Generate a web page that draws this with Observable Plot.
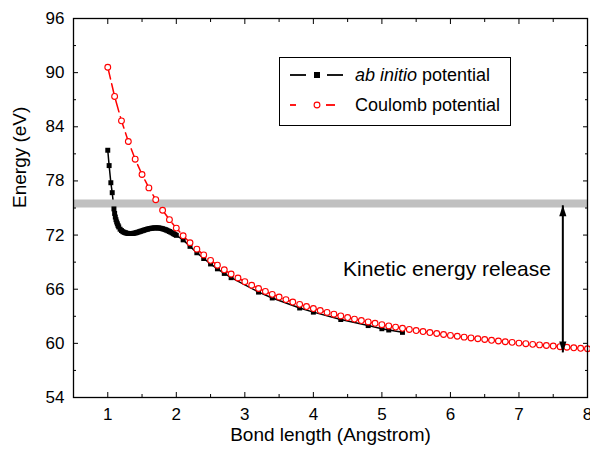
<!DOCTYPE html>
<html><head><meta charset="utf-8">
<script src="https://cdn.jsdelivr.net/npm/d3@7"></script>
<script src="https://cdn.jsdelivr.net/npm/@observablehq/plot@0.6"></script>
<style>
body{margin:0;background:#fff;}
#wrap{position:relative;width:590px;height:449px;font-family:"Liberation Sans",Arial,sans-serif;}
#legend{position:absolute;left:279px;top:57px;}
</style></head><body><div id="wrap"></div>
<script>
// Coulomb potential (red, open circles)
const coulombR = [1.0,1.1,1.2,1.3,1.4,1.5,1.6,1.7,1.8,1.9,2.0,2.1,2.2,2.3,2.4,2.5,2.6,2.7,2.8,2.9,3.0,3.1,3.2,3.3,3.4,3.5,3.6,3.7,3.8,3.9,4.0,4.1,4.2,4.3,4.4,4.5,4.6,4.7,4.8,4.9,5.0,5.1,5.2,5.3,5.4,5.5,5.6,5.7,5.8,5.9,6.0,6.1,6.2,6.3,6.4,6.5,6.6,6.7,6.8,6.9,7.0,7.1,7.2,7.3,7.4,7.5,7.6,7.7,7.8,7.9,8.0];
const coulombE = [90.60,87.36,84.66,82.37,80.41,78.71,77.23,75.92,74.75,73.71,72.77,71.92,71.15,70.44,69.80,69.20,68.66,68.15,67.68,67.24,66.83,66.44,66.08,65.75,65.43,65.13,64.85,64.58,64.32,64.08,63.86,63.64,63.43,63.23,63.04,62.86,62.69,62.53,62.37,62.22,62.07,61.93,61.80,61.67,61.54,61.42,61.31,61.20,61.09,60.98,60.88,60.79,60.69,60.60,60.51,60.43,60.34,60.26,60.18,60.11,60.03,59.96,59.89,59.83,59.76,59.70,59.63,59.57,59.51,59.45,59.40];
// ab initio potential (black, filled squares)
const abR = [1.00,1.02,1.045,1.065,1.09,1.10,1.11,1.12,1.13,1.14,1.15,1.16,1.18,1.20,1.22,1.24,1.26,1.28,1.30,1.32,1.34,1.36,1.38,1.40,1.42,1.44,1.46,1.48,1.50,1.52,1.54,1.56,1.58,1.60,1.62,1.64,1.66,1.68,1.70,1.72,1.74,1.76,1.78,1.80,1.82,1.84,1.86,1.88,1.90,1.92,1.94,1.96,1.98,2.00,2.1,2.2,2.3,2.4,2.5,2.6,2.7,2.8,3.2,3.4,3.8,4.0,4.4,4.8,5.0,5.1,5.3];
const abE = [81.4,79.7,77.8,76.7,74.9,74.4,74.0,73.7,73.45,73.25,73.05,72.9,72.65,72.5,72.38,72.3,72.25,72.2,72.18,72.17,72.17,72.18,72.2,72.23,72.27,72.32,72.37,72.42,72.47,72.52,72.57,72.62,72.66,72.7,72.73,72.76,72.78,72.79,72.8,72.8,72.79,72.77,72.74,72.70,72.65,72.60,72.54,72.47,72.40,72.32,72.24,72.15,72.06,71.97,71.47,70.75,70.04,69.40,68.80,68.26,67.75,67.28,65.68,65.03,63.92,63.46,62.64,61.97,61.62,61.48,61.22];
// ticks
const xMajor = [1,2,3,4,5,6,7,8];
const xMinor = [1.5,2.5,3.5,4.5,5.5,6.5,7.5];
const yMajor = [54,60,66,72,78,84,90,96];
const yMinor = [57,63,69,75,81,87,93];
// annotations
const greyLevel = [75.5];
const arrowX = [7.64];
const arrowTop = [75.3];
const arrowBottom = [59.0];
const noteText = ["Kinetic energy release"];
const noteX = [5.95];
const noteY = [68.2];
const xLabel = "Bond length (Angstrom)";
const yLabel = "Energy (eV)";
const seriesNames = ["ab initio", " potential", "Coulomb potential"];

const coulomb = coulombR.map((r, i) => ({r, e: coulombE[i]}));
const abinitio = abR.map((r, i) => ({r, e: abE[i]}));
const arrows = arrowX.map((x, i) => ({x, top: arrowTop[i], bottom: arrowBottom[i]}));
const notes = noteText.map((t, i) => ({t, x: noteX[i], y: noteY[i]}));

const headUp = {draw(ctx){ ctx.moveTo(0,0); ctx.lineTo(3.6,11); ctx.lineTo(-3.6,11); ctx.closePath(); }};
const headDown = {draw(ctx){ ctx.moveTo(0,0); ctx.lineTo(3.6,-11); ctx.lineTo(-3.6,-11); ctx.closePath(); }};

const plot = Plot.plot({
  width: 590, height: 449,
  marginLeft: 73, marginRight: 3, marginTop: 18, marginBottom: 52,
  style: {fontFamily: '"Liberation Sans", Arial, sans-serif', background: "white", color: "black"},
  x: {domain: [0.5, 8]},
  y: {domain: [54, 96]},
  marks: [
    Plot.line(abinitio, {x: "r", y: "e", stroke: "black", strokeWidth: 1.5}),
    Plot.line(coulomb, {x: "r", y: "e", stroke: "#ff0000", strokeWidth: 1.5, strokeDasharray: "12,5"}),
    Plot.ruleY(greyLevel, {stroke: "#c0c0c0", strokeWidth: 8}),
    Plot.dot(abinitio, {x: "r", y: "e", symbol: "square", r: 2.8, fill: "black", stroke: "none"}),
    Plot.dot(coulomb, {x: "r", y: "e", r: 2.9, fill: "white", stroke: "#ff0000", strokeWidth: 1.1}),
    Plot.link(arrows, {x1: "x", x2: "x", y1: "top", y2: "bottom", stroke: "black", strokeWidth: 2}),
    Plot.dot(arrows, {x: "x", y: "top", symbol: headUp, fill: "black", stroke: "none"}),
    Plot.dot(arrows, {x: "x", y: "bottom", symbol: headDown, fill: "black", stroke: "none"}),
    Plot.text(notes, {x: "x", y: "y", text: "t", fontSize: 21, fill: "black"}),
    Plot.axisX(xMajor, {anchor: "bottom", tickSize: -5, text: null, label: null}),
    Plot.axisX(xMajor, {anchor: "top", tickSize: -5, text: null, label: null}),
    Plot.axisX(xMinor, {anchor: "bottom", tickSize: -3, text: null, label: null}),
    Plot.axisX(xMinor, {anchor: "top", tickSize: -3, text: null, label: null}),
    Plot.axisX(xMajor, {anchor: "bottom", tickSize: 0, tickPadding: 10, fontSize: 17, label: null}),
    Plot.axisY(yMajor, {anchor: "left", tickSize: -5, text: null, label: null}),
    Plot.axisY(yMajor, {anchor: "right", tickSize: -5, text: null, label: null}),
    Plot.axisY(yMinor, {anchor: "left", tickSize: -3, text: null, label: null}),
    Plot.axisY(yMinor, {anchor: "right", tickSize: -3, text: null, label: null}),
    Plot.axisY(yMajor, {anchor: "left", tickSize: 0, tickPadding: 9, fontSize: 17, label: null}),
    Plot.frame({stroke: "black", strokeWidth: 1.3}),
    Plot.text([xLabel], {frameAnchor: "bottom", dy: 43, fontSize: 19, fill: "black"}),
    Plot.text([yLabel], {frameAnchor: "left", dx: -54, rotate: -90, fontSize: 19, fill: "black"})
  ]
});
const wrap = document.getElementById("wrap");
wrap.appendChild(plot);

// legend
const lg = d3.create("svg").attr("id", "legend").attr("width", 234).attr("height", 71)
  .style("font-family", '"Liberation Sans", Arial, sans-serif');
lg.append("rect").attr("x", 0.5).attr("y", 0.5).attr("width", 231).attr("height", 68)
  .attr("fill", "white").attr("stroke", "black").attr("stroke-width", 1);
// row 1
lg.append("line").attr("x1", 11).attr("x2", 27).attr("y1", 18).attr("y2", 18).attr("stroke", "black").attr("stroke-width", 1.8);
lg.append("line").attr("x1", 48).attr("x2", 64).attr("y1", 18).attr("y2", 18).attr("stroke", "black").attr("stroke-width", 1.8);
lg.append("rect").attr("x", 35).attr("y", 15).attr("width", 6).attr("height", 6).attr("fill", "black");
const t1 = lg.append("text").attr("x", 76).attr("y", 24).attr("font-size", 18).attr("fill", "black");
t1.append("tspan").attr("font-style", "italic").text(seriesNames[0]);
t1.append("tspan").text(seriesNames[1]);
// row 2
lg.append("line").attr("x1", 11).attr("x2", 17).attr("y1", 48).attr("y2", 48).attr("stroke", "#ff0000").attr("stroke-width", 1.8);
lg.append("line").attr("x1", 47).attr("x2", 56).attr("y1", 48).attr("y2", 48).attr("stroke", "#ff0000").attr("stroke-width", 1.8);
lg.append("circle").attr("cx", 38).attr("cy", 48).attr("r", 2.9).attr("fill", "white").attr("stroke", "#ff0000").attr("stroke-width", 1.1);
lg.append("text").attr("x", 76).attr("y", 54).attr("font-size", 18).attr("fill", "black").text(seriesNames[2]);
wrap.appendChild(lg.node());
</script></body></html>
